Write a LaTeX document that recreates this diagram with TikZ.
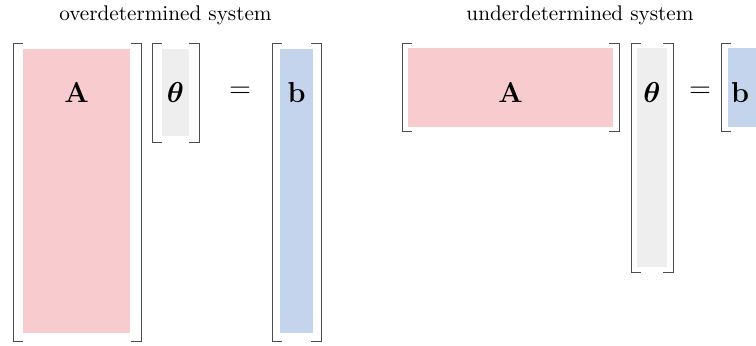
\documentclass[tikz,border=0pt]{standalone}
\usepackage{amsmath}
\definecolor{apink}{RGB}{248,204,206}
\definecolor{tgray}{RGB}{238,238,238}
\definecolor{bblue}{RGB}{195,212,236}
\tikzset{
  brk/.style={draw=black!70, line width=0.45pt},
  lbl/.style={inner sep=0pt, font=\fontsize{14}{16}\selectfont},
  ttl/.style={inner sep=0pt, font=\fontsize{10.6}{12}\selectfont},
}
% left bracket: x, top, bottom
\newcommand{\lbrk}[3]{\draw[brk] (#1+10,#2) -- (#1,#2) -- (#1,#3) -- (#1+10,#3);}
\newcommand{\rbrk}[3]{\draw[brk] (#1-10,#2) -- (#1,#2) -- (#1,#3) -- (#1-10,#3);}
\begin{document}
\begin{tikzpicture}[x=0.5pt,y=-0.5pt]
\useasboundingbox (0,0) rectangle (756,345);
\clip (0,0) rectangle (756,345);
% titles
\node[ttl] (t1) at (165.5,15) {overdetermined system};
\node[ttl] (t2) at (580,15) {underdetermined system};
% ---------- overdetermined ----------
\fill[apink] (23,49) rectangle (130,333);
\lbrk{13}{43}{341}\rbrk{141}{43}{341}
\node[lbl] (A1) at (76.5,92.5) {$\mathbf{A}$};
\fill[tgray] (162,49) rectangle (189,136);
\lbrk{152}{43}{142}\rbrk{199}{43}{142}
\node[lbl] (th1) at (175.5,92.5) {$\boldsymbol{\theta}$};
\node[lbl] (eq1) at (240,92.5) {$=$};
\fill[bblue] (280,49) rectangle (313,333);
\lbrk{272}{43}{341}\rbrk{321}{43}{341}
\node[lbl] (b1) at (296.5,92.5) {$\mathbf{b}$};
% ---------- underdetermined ----------
\fill[apink] (408,48) rectangle (613,127);
\lbrk{402}{43}{131}\rbrk{619}{43}{131}
\node[lbl] (A2) at (510.5,92.5) {$\mathbf{A}$};
\fill[tgray] (637,48) rectangle (667,267);
\lbrk{631}{43}{272}\rbrk{673}{43}{272}
\node[lbl] (th2) at (652,92.5) {$\boldsymbol{\theta}$};
\node[lbl] (eq2) at (700,92.5) {$=$};
\fill[bblue] (728,48) rectangle (770,127);
\lbrk{721}{43}{131}
\node[lbl] (b2) at (740,92.5) {$\mathbf{b}$};
\end{tikzpicture}
\end{document}
